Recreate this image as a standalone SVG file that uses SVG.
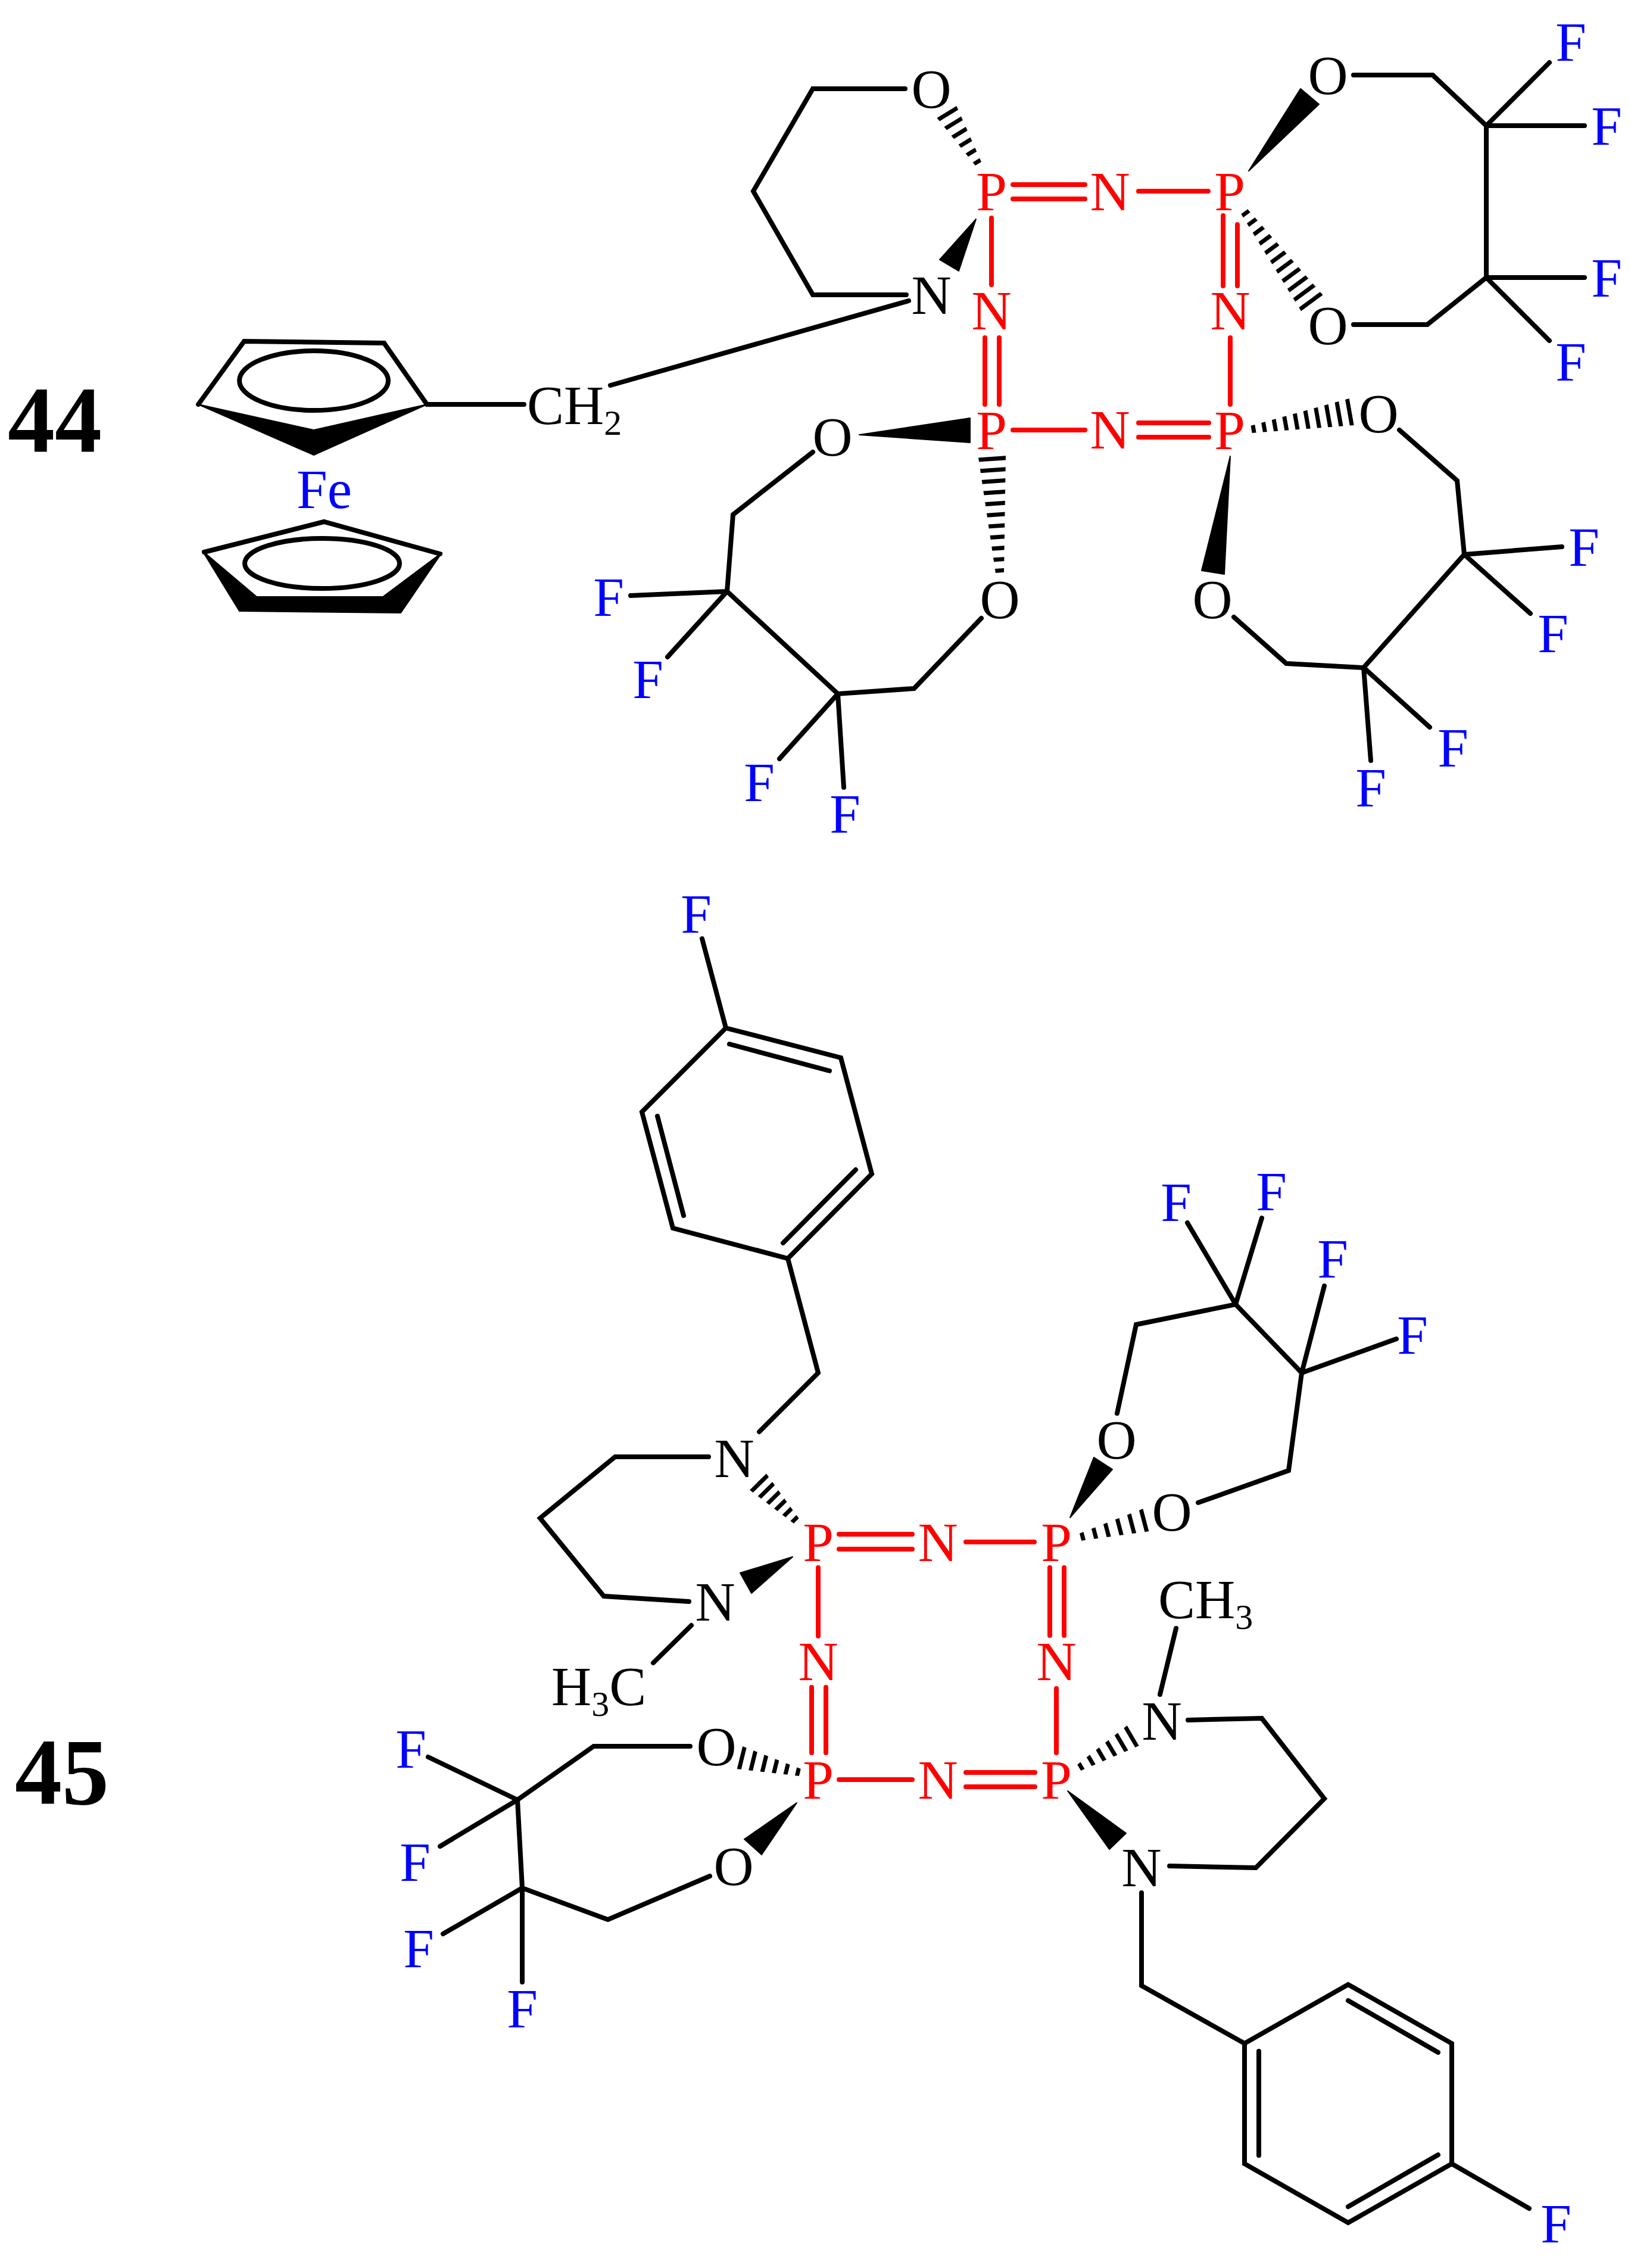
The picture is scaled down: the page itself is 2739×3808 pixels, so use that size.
<svg xmlns="http://www.w3.org/2000/svg" width="2739" height="3808" viewBox="0 0 2739 3808">
<style>
text{font-family:"Liberation Serif","Times New Roman",serif;font-size:93px;text-anchor:middle}
.k{fill:#000}.r{fill:#f00}.u{fill:#00f}
.st{text-anchor:start}
.num{font-size:158px;font-weight:bold;text-anchor:start}
.sub{font-size:60px}
.b,.br{fill:none;stroke-width:8;stroke-linecap:round;stroke-linejoin:miter}
.b{stroke:#000}.br{stroke:#f00}
.w{fill:#000;stroke:#000;stroke-width:2;stroke-linejoin:round}
.h{stroke:#000;fill:none}
</style>
<defs>
<clipPath id="h1"><polygon points="1648,272 1605,175 1571,195 1638,278"/></clipPath>
<clipPath id="h2"><polygon points="2095,351 2223,497 2186,524 2084,359"/></clipPath>
<clipPath id="h3"><polygon points="2100,715 2266,669 2274,714 2102,727"/></clipPath>
<clipPath id="h4"><polygon points="1686,961 1689,764 1643,768 1672,963"/></clipPath>
<clipPath id="h5"><polygon points="1342,2550 1286,2473 1258,2501 1333,2558"/></clipPath>
<clipPath id="h6"><polygon points="1345,2970 1247,2932 1237,2970 1343,2982"/></clipPath>
<clipPath id="h7"><polygon points="1812,2575 1920,2533 1930,2571 1815,2587"/></clipPath>
<clipPath id="h8"><polygon points="1809,2963 1893,2897 1913,2931 1815,2973"/></clipPath>
</defs>
<rect width="2739" height="3808" fill="#fff"/>
<g id="connectors">
<g id="bonds-44">
<path class="b" d="M880 679H717L645 576L410 573L333 679"/>
<ellipse class="b" cx="527" cy="639" rx="125" ry="50"/>
<polygon class="w" points="333,679 527,722 717,679 527,764"/>
<path class="b" d="M343 927L544 876L739 930"/>
<ellipse class="b" cx="541" cy="946" rx="130" ry="42"/>
<polygon class="w" points="340,925 431,1002 643,1002 742,928 673,1029 402,1026"/>
<path class="b" d="M1520 149H1365L1265 321L1365 495H1522"/>
<path class="b" d="M1025 647L1526 505"/>
<path class="b" d="M2273 126H2406L2496 211V466L2397 545H2273"/>
<path class="b" d="M2496 211L2602 105M2496 211H2661M2496 466H2661M2496 466L2602 572"/>
<path class="b" d="M2350 722L2447 807L2459 931L2290 1121L2160 1114L2072 1036"/>
<path class="b" d="M2459 931L2623 918M2459 931L2570 1030M2290 1121L2401 1221M2290 1121L2302 1277"/>
<path class="b" d="M1365 759L1231 864L1221 993L1407 1165L1535 1156L1648 1038"/>
<path class="b" d="M1221 993L1059 1000M1221 993L1121 1103M1407 1165L1309 1274M1407 1165L1417 1322"/>
<path class="br" d="M1701 310H1822M1701 334H1822M1912 321H2029M1665 366V478M1654 567V679M1678 567V679M2054 362V480M2078 377V480M2066 567V679M1701 722H1822M1912 710H2030M1912 734H2030"/>
<polygon class="w" points="2097,287 2184,149 2215,175"/>
<polygon class="w" points="1639,368 1578,436 1610,455"/>
<polygon class="w" points="1629,702 1629,743 1443,730"/>
<polygon class="w" points="2066,766 2018,958 2056,964"/>
<line class="h" x1="1643" y1="275" x2="1588" y2="185" stroke-width="50" stroke-dasharray="7 12" clip-path="url(#h1)"/>
<line class="h" x1="2090" y1="355" x2="2205" y2="511" stroke-width="52" stroke-dasharray="7 11.4" clip-path="url(#h2)"/>
<line class="h" x1="2101.5" y1="720.6" x2="2270" y2="691" stroke-width="52" stroke-dasharray="7 11.2" clip-path="url(#h3)"/>
<line class="h" x1="1679.2" y1="961.5" x2="1665.7" y2="766" stroke-width="52" stroke-dasharray="7 11.8" clip-path="url(#h4)"/>
</g>
<g id="bonds-45">
<path class="b" d="M1179 1576L1219 1726L1412 1776L1464 1971L1323 2113L1130 2062L1078 1867L1219 1726"/>
<path class="b" d="M1225 1753L1393 1798M1104 1874L1148 2041M1437 1964L1315 2087"/>
<path class="b" d="M1323 2113L1374 2305L1275 2404"/>
<path class="b" d="M1190 2446H1033L907 2549L1014 2680L1157 2689"/>
<path class="b" d="M1161 2729L1097 2792"/>
<path class="b" d="M1876 2373L1908 2224L2075 2190L2186 2305L2164 2469L2012 2523"/>
<path class="b" d="M2075 2190L1994 2053M2075 2190L2119 2045M2186 2305L2224 2159M2186 2305L2345 2248"/>
<path class="b" d="M1948 2845L1975 2734"/>
<path class="b" d="M1995 2888L2119 2885L2224 3020L2109 3136L1964 3133"/>
<path class="b" d="M1917 3178V3334L2090 3431L2264 3332L2438 3431V3633L2264 3732L2090 3633V3431"/>
<path class="b" d="M2264 3359L2415 3446M2114 3444V3619M2264 3705L2415 3618M2438 3633L2568 3708"/>
<path class="b" d="M1159 2932H997L869 3022L877 3170L1021 3223L1192 3150"/>
<path class="b" d="M869 3022L719 2950M869 3022L739 3100M877 3170L744 3247M877 3170V3328"/>
<path class="br" d="M1409 2576H1532M1409 2601H1532M1622 2589H1737M1763 2632V2746M1787 2632V2746M1774 2835V2943M1374 2632V2747M1363 2833V2943M1387 2833V2943M1409 2988H1532M1622 2976H1738M1622 3000H1738"/>
<polygon class="w" points="1331,2614 1243,2641 1262,2675"/>
<polygon class="w" points="1338,3027 1250,3088 1279,3114"/>
<polygon class="w" points="1797,2548 1837,2447 1868,2467"/>
<polygon class="w" points="1793,3007 1891,3078 1863,3105"/>
<line class="h" x1="1337.5" y1="2553.5" x2="1272" y2="2487" stroke-width="50" stroke-dasharray="7 10" clip-path="url(#h5)"/>
<line class="h" x1="1343.4" y1="2975.8" x2="1242" y2="2951" stroke-width="50" stroke-dasharray="7 12.4" clip-path="url(#h6)"/>
<line class="h" x1="1814.6" y1="2581" x2="1925" y2="2552" stroke-width="50" stroke-dasharray="7 14.3" clip-path="url(#h7)"/>
<line class="h" x1="1812" y1="2967.8" x2="1903.4" y2="2914" stroke-width="50" stroke-dasharray="7 12.7" clip-path="url(#h8)"/>
</g>
</g>
<g id="compound-44">
<g id="label-44"><text class="num k" x="13" y="759">44</text></g>
<g id="a44-fe"><text class="u st" x="498" y="853">Fe</text></g>
<g id="a44-ch2"><text class="k st" x="885" y="712">CH<tspan class="sub" dy="18">2</tspan></text></g>
<g id="a44-o1"><text class="k" x="1564" y="181">O</text></g>
<g id="a44-n1"><text class="k" x="1564" y="527">N</text></g>
<g id="a44-p1"><text class="r" x="1665" y="353">P</text></g>
<g id="a44-n2"><text class="r" x="1864" y="353">N</text></g>
<g id="a44-p2"><text class="r" x="2065" y="353">P</text></g>
<g id="a44-n3"><text class="r" x="1665" y="553">N</text></g>
<g id="a44-n4"><text class="r" x="2066" y="553">N</text></g>
<g id="a44-p3"><text class="r" x="1665" y="754">P</text></g>
<g id="a44-n5"><text class="r" x="1864" y="753">N</text></g>
<g id="a44-p4"><text class="r" x="2065" y="754">P</text></g>
<g id="a44-o2"><text class="k" x="2230" y="158">O</text></g>
<g id="a44-o3"><text class="k" x="2230" y="578">O</text></g>
<g id="a44-o4"><text class="k" x="2315" y="726">O</text></g>
<g id="a44-o5"><text class="k" x="2036" y="1038">O</text></g>
<g id="a44-o6"><text class="k" x="1679" y="1038">O</text></g>
<g id="a44-o7"><text class="k" x="1398" y="765">O</text></g>
<g id="a44-f1"><text class="u" x="2638" y="102">F</text></g>
<g id="a44-f2"><text class="u" x="2698" y="243">F</text></g>
<g id="a44-f3"><text class="u" x="2698" y="498">F</text></g>
<g id="a44-f4"><text class="u" x="2638" y="639">F</text></g>
<g id="a44-f5"><text class="u" x="2660" y="950">F</text></g>
<g id="a44-f6"><text class="u" x="2608" y="1095">F</text></g>
<g id="a44-f7"><text class="u" x="2440" y="1287">F</text></g>
<g id="a44-f8"><text class="u" x="2302" y="1354">F</text></g>
<g id="a44-f9"><text class="u" x="1419" y="1398">F</text></g>
<g id="a44-f10"><text class="u" x="1022" y="1034">F</text></g>
<g id="a44-f11"><text class="u" x="1088" y="1172">F</text></g>
<g id="a44-f12"><text class="u" x="1275" y="1345">F</text></g>
</g>
<g id="compound-45">
<g id="label-45"><text class="num k" x="25" y="3029">45</text></g>
<g id="a45-f1"><text class="u" x="1169" y="1566">F</text></g>
<g id="a45-n1"><text class="k" x="1233" y="2480">N</text></g>
<g id="a45-n2"><text class="k" x="1201" y="2721">N</text></g>
<g id="a45-h3c"><text class="k st" x="926" y="2863">H<tspan class="sub" dy="18">3</tspan><tspan dy="-18">C</tspan></text></g>
<g id="a45-p1"><text class="r" x="1374" y="2621">P</text></g>
<g id="a45-n3"><text class="r" x="1575" y="2621">N</text></g>
<g id="a45-p2"><text class="r" x="1774" y="2621">P</text></g>
<g id="a45-n4"><text class="r" x="1374" y="2821">N</text></g>
<g id="a45-n5"><text class="r" x="1774" y="2821">N</text></g>
<g id="a45-p3"><text class="r" x="1374" y="3020">P</text></g>
<g id="a45-n6"><text class="r" x="1575" y="3020">N</text></g>
<g id="a45-p4"><text class="r" x="1774" y="3020">P</text></g>
<g id="a45-o1"><text class="k" x="1875" y="2449">O</text></g>
<g id="a45-o2"><text class="k" x="1968" y="2570">O</text></g>
<g id="a45-ch3"><text class="k st" x="1945" y="2717">CH<tspan class="sub" dy="18">3</tspan></text></g>
<g id="a45-n7"><text class="k" x="1951" y="2921">N</text></g>
<g id="a45-n8"><text class="k" x="1917" y="3167">N</text></g>
<g id="a45-o3"><text class="k" x="1203" y="2964">O</text></g>
<g id="a45-o4"><text class="k" x="1232" y="3165">O</text></g>
<g id="a45-f2"><text class="u" x="1975" y="2050">F</text></g>
<g id="a45-f3"><text class="u" x="2135" y="2032">F</text></g>
<g id="a45-f4"><text class="u" x="2238" y="2145">F</text></g>
<g id="a45-f5"><text class="u" x="2372" y="2273">F</text></g>
<g id="a45-f6"><text class="u" x="690" y="2968">F</text></g>
<g id="a45-f7"><text class="u" x="697" y="3158">F</text></g>
<g id="a45-f8"><text class="u" x="703" y="3303">F</text></g>
<g id="a45-f9"><text class="u" x="877" y="3404">F</text></g>
<g id="a45-f10"><text class="u" x="2613" y="3765">F</text></g>
</g>
</svg>
